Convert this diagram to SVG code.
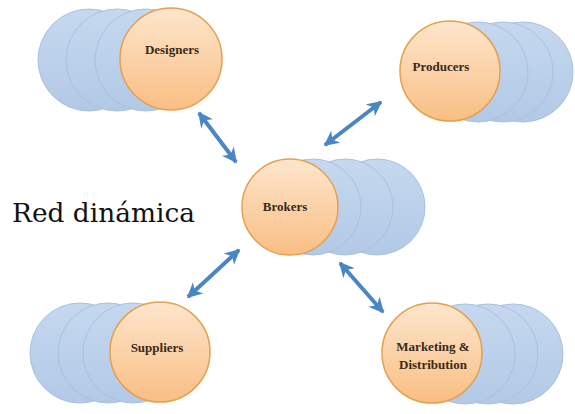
<svg xmlns="http://www.w3.org/2000/svg" width="575" height="414" viewBox="0 0 575 414">
<defs>
<linearGradient id="og" x1="0" y1="0" x2="0" y2="1">
<stop offset="0" stop-color="#fde6cc"/>
<stop offset="1" stop-color="#f9be84"/>
</linearGradient>
<linearGradient id="bg" x1="0" y1="0" x2="0" y2="1">
<stop offset="0" stop-color="#c5d8ef"/>
<stop offset="1" stop-color="#b2c9e6"/>
</linearGradient>
<marker id="ah" viewBox="0 0 10 10" refX="9" refY="5" markerWidth="3.8" markerHeight="3.8" orient="auto-start-reverse" markerUnits="strokeWidth">
<path d="M0,0 L10,5 L0,10 L3,5 Z" fill="#4a86c6"/>
</marker>
</defs>
<style>
.b{fill:url(#bg);stroke:#a9c1e0;stroke-width:1}
.o{fill:url(#og);stroke:#e5a04e;stroke-width:1.5}
.t{font-family:"Liberation Serif","DejaVu Serif",serif;font-weight:bold;font-size:13px;fill:#3a2a1a;text-anchor:middle}
.a{stroke:#4a86c6;stroke-width:4;fill:none;marker-start:url(#ah);marker-end:url(#ah)}
</style>
<g id="designers">
<circle class="b" cx="89" cy="60" r="51"/>
<circle class="b" cx="117" cy="60" r="51"/>
<circle class="b" cx="146" cy="60" r="51"/>
<circle class="o" cx="171" cy="59" r="51"/>
<text class="t" x="172" y="54">Designers</text>
</g>
<g id="producers">
<circle class="b" cx="523" cy="72" r="50"/>
<circle class="b" cx="503" cy="72" r="50"/>
<circle class="b" cx="478" cy="72" r="50"/>
<circle class="o" cx="450" cy="71" r="50"/>
<text class="t" x="441" y="71">Producers</text>
</g>
<g id="brokers">
<circle class="b" cx="377" cy="207" r="48"/>
<circle class="b" cx="345" cy="207" r="48"/>
<circle class="b" cx="313" cy="207" r="48"/>
<circle class="o" cx="290" cy="207" r="48"/>
<text class="t" x="285" y="211">Brokers</text>
</g>
<g id="suppliers">
<circle class="b" cx="80" cy="353" r="50"/>
<circle class="b" cx="108" cy="353" r="50"/>
<circle class="b" cx="133" cy="353" r="50"/>
<circle class="o" cx="160" cy="352" r="50"/>
<text class="t" x="157" y="352">Suppliers</text>
</g>
<g id="marketing">
<circle class="b" cx="513" cy="354" r="50"/>
<circle class="b" cx="488" cy="354" r="50"/>
<circle class="b" cx="465" cy="354" r="50"/>
<circle class="o" cx="432" cy="353" r="50"/>
<text class="t" x="433" y="351">Marketing  &amp;</text>
<text class="t" x="433" y="369">Distribution</text>
</g>
<g id="connectors">
<line class="a" x1="199" y1="113" x2="236" y2="162"/>
<line class="a" x1="381" y1="102" x2="325" y2="145"/>
<line class="a" x1="239" y1="250" x2="188" y2="297"/>
<line class="a" x1="340" y1="263" x2="383" y2="312"/>
</g>
<text x="12" y="222" font-family="DejaVu Serif, Liberation Serif, serif" font-size="26" fill="#111" textLength="183" lengthAdjust="spacingAndGlyphs">Red dinámica</text>
</svg>
